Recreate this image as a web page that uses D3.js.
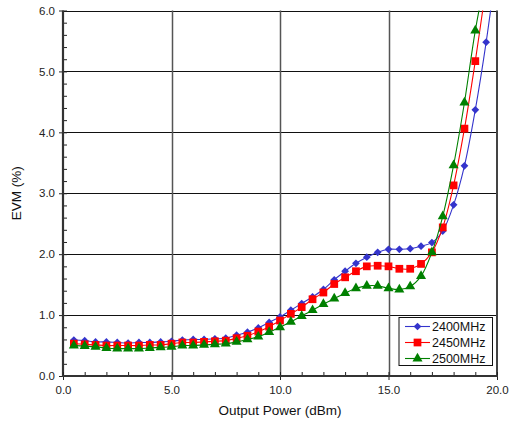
<!DOCTYPE html>
<html>
<head>
<meta charset="utf-8">
<script src="https://cdn.jsdelivr.net/npm/d3@7"></script>
<style>
  body { margin: 0; background: #fff; }
  svg { display: block; }
</style>
</head>
<body>
<div id="chart"></div>
<script>
// Output power (dBm) sample points
const power = [0.5, 1, 1.5, 2, 2.5, 3, 3.5, 4, 4.5, 5, 5.5, 6, 6.5, 7, 7.5, 8, 8.5, 9, 9.5, 10,
  10.5, 11, 11.5, 12, 12.5, 13, 13.5, 14, 14.5, 15, 15.5, 16, 16.5, 17, 17.5, 18, 18.5, 19, 19.5, 20];

// EVM (%) per frequency
const evm2400 = [0.59, 0.58, 0.56, 0.56, 0.55, 0.54, 0.55, 0.55, 0.56, 0.57, 0.59, 0.60, 0.60, 0.61, 0.62, 0.67, 0.72, 0.79, 0.88, 0.97,
  1.08, 1.19, 1.30, 1.42, 1.58, 1.72, 1.85, 1.95, 2.03, 2.08, 2.08, 2.09, 2.13, 2.19, 2.38, 2.81, 3.45, 4.37, 5.48, 6.8];
const evm2450 = [0.53, 0.52, 0.51, 0.50, 0.50, 0.50, 0.50, 0.51, 0.51, 0.53, 0.55, 0.55, 0.56, 0.57, 0.58, 0.62, 0.66, 0.73, 0.81, 0.91,
  1.02, 1.13, 1.26, 1.37, 1.51, 1.62, 1.72, 1.80, 1.81, 1.80, 1.76, 1.76, 1.84, 2.03, 2.44, 3.13, 4.06, 5.17, 6.4];
const evm2500 = [0.50, 0.49, 0.48, 0.46, 0.45, 0.45, 0.45, 0.46, 0.47, 0.48, 0.50, 0.50, 0.51, 0.52, 0.53, 0.56, 0.60, 0.645, 0.72, 0.80,
  0.89, 0.985, 1.08, 1.18, 1.27, 1.36, 1.44, 1.48, 1.48, 1.44, 1.42, 1.47, 1.64, 2.03, 2.62, 3.46, 4.49, 5.67, 6.6];

const seriesNames = ["2400MHz", "2450MHz", "2500MHz"];
const xTickLabels = ["0.0", "5.0", "10.0", "15.0", "20.0"];
const yTickLabels = ["0.0", "1.0", "2.0", "3.0", "4.0", "5.0", "6.0"];

const width = 516, height = 427;
const margin = { top: 10.5, right: 19, bottom: 51, left: 63 };
const font = "'Liberation Sans', Arial, sans-serif";

const series = [
  { name: seriesNames[0], values: evm2400, color: "#3434cc", symbol: d3.symbolSquare, size: 30, rotate: 45 },
  { name: seriesNames[1], values: evm2450, color: "#ff0000", symbol: d3.symbolSquare, size: 60, rotate: 0 },
  { name: seriesNames[2], values: evm2500, color: "#008000", symbol: d3.symbolTriangle, size: 44, rotate: 0 }
];

const svg = d3.select("#chart").append("svg")
  .attr("width", width)
  .attr("height", height)
  .attr("font-family", font);

const innerW = width - margin.left - margin.right;
const innerH = height - margin.top - margin.bottom;

const x = d3.scaleLinear().domain([0, 20]).range([margin.left, margin.left + innerW]);
const y = d3.scaleLinear().domain([0, 6]).range([margin.top + innerH, margin.top]);

svg.append("defs").append("clipPath").attr("id", "plot-clip")
  .append("rect")
  .attr("x", margin.left).attr("y", margin.top)
  .attr("width", innerW).attr("height", innerH);

// grid
const grid = svg.append("g").attr("class", "grid");
grid.selectAll("line.h")
  .data(d3.range(1, 7))
  .join("line").attr("class", "h")
  .attr("x1", margin.left).attr("x2", margin.left + innerW)
  .attr("y1", d => Math.round(y(d)) + 0.5).attr("y2", d => Math.round(y(d)) + 0.5)
  .attr("stroke", "#111").attr("stroke-width", 1);
grid.selectAll("line.v")
  .data([5, 10, 15])
  .join("line").attr("class", "v")
  .attr("y1", margin.top).attr("y2", margin.top + innerH)
  .attr("x1", d => Math.round(x(d)) + 0.5).attr("x2", d => Math.round(x(d)) + 0.5)
  .attr("stroke", "#555").attr("stroke-width", 1.5);

// right border
svg.append("line")
  .attr("x1", x(20)).attr("x2", x(20))
  .attr("y1", margin.top).attr("y2", margin.top + innerH)
  .attr("stroke", "#444").attr("stroke-width", 2);

// y axis with minor ticks inside
const yAxis = svg.append("g").attr("transform", `translate(${margin.left},0)`);
yAxis.call(d3.axisRight(y).tickValues(d3.range(0, 6.01, 0.2)).tickSize(4).tickFormat(""))
  .call(g => g.select(".domain").remove())
  .call(g => g.selectAll("line").attr("stroke", "#222"));
yAxis.call(g => g.append("g")
  .call(d3.axisLeft(y).tickValues(d3.range(0, 7)).tickSize(4).tickPadding(4)
    .tickFormat((d, i) => yTickLabels[i]))
  .call(a => a.select(".domain").remove())
  .call(a => a.selectAll("line").attr("stroke", "#222"))
  .call(a => a.selectAll("text").attr("font-size", 11.5).attr("fill", "#222").attr("font-family", font)));
yAxis.append("line")
  .attr("y1", margin.top).attr("y2", margin.top + innerH + 1)
  .attr("stroke", "#333").attr("stroke-width", 2.2);

// x axis with minor ticks inside
const xAxis = svg.append("g").attr("transform", `translate(0,${margin.top + innerH})`);
xAxis.call(d3.axisTop(x).tickValues(d3.range(0, 21)).tickSize(4).tickFormat(""))
  .call(g => g.select(".domain").remove())
  .call(g => g.selectAll("line").attr("stroke", "#222"));
xAxis.call(g => g.append("g")
  .call(d3.axisBottom(x).tickValues([0, 5, 10, 15, 20]).tickSize(4).tickPadding(6)
    .tickFormat((d, i) => xTickLabels[i]))
  .call(a => a.select(".domain").remove())
  .call(a => a.selectAll("line").attr("stroke", "#222"))
  .call(a => a.selectAll("text").attr("font-size", 11.5).attr("fill", "#222").attr("font-family", font)));
xAxis.append("line")
  .attr("x1", margin.left - 1).attr("x2", x(20) + 1)
  .attr("stroke", "#333").attr("stroke-width", 2.2);

// axis titles
svg.append("text")
  .attr("x", (x(0) + x(20)) / 2).attr("y", 415)
  .attr("text-anchor", "middle").attr("font-size", 13.5).attr("fill", "#111")
  .text("Output Power (dBm)");
svg.append("text")
  .attr("transform", `translate(21,${(y(0) + y(6)) / 2}) rotate(-90)`)
  .attr("text-anchor", "middle").attr("font-size", 13.5).attr("fill", "#111")
  .text("EVM (%)");

// series
const line = d3.line()
  .x((d, i) => x(power[i]))
  .y(d => y(d))
  .curve(d3.curveCatmullRom.alpha(0.5));

const plot = svg.append("g").attr("clip-path", "url(#plot-clip)");
series.forEach(s => {
  plot.append("path")
    .datum(s.values)
    .attr("fill", "none")
    .attr("stroke", s.color)
    .attr("stroke-width", 1.1)
    .attr("d", line);
  plot.selectAll(null)
    .data(s.values)
    .join("path")
    .attr("transform", (d, i) => `translate(${x(power[i])},${y(d)}) rotate(${s.rotate})`)
    .attr("d", d3.symbol(s.symbol, s.size))
    .attr("fill", s.color);
});

// legend
const legend = svg.append("g").attr("transform", "translate(399,317.5)");
legend.append("rect")
  .attr("width", 93.5).attr("height", 48)
  .attr("fill", "#fff").attr("stroke", "#111").attr("stroke-width", 1);
series.forEach((s, i) => {
  const row = legend.append("g").attr("transform", `translate(0,${9 + i * 16})`);
  row.append("line").attr("x1", 6).attr("x2", 31).attr("stroke", s.color).attr("stroke-width", 1.1);
  row.append("path").attr("transform", `translate(18.5,0) rotate(${s.rotate})`)
    .attr("d", d3.symbol(s.symbol, s.size)).attr("fill", s.color);
  row.append("text").attr("x", 33).attr("y", 4.5)
    .attr("font-size", 12.5).attr("fill", "#111").text(s.name);
});
</script>
</body>
</html>
